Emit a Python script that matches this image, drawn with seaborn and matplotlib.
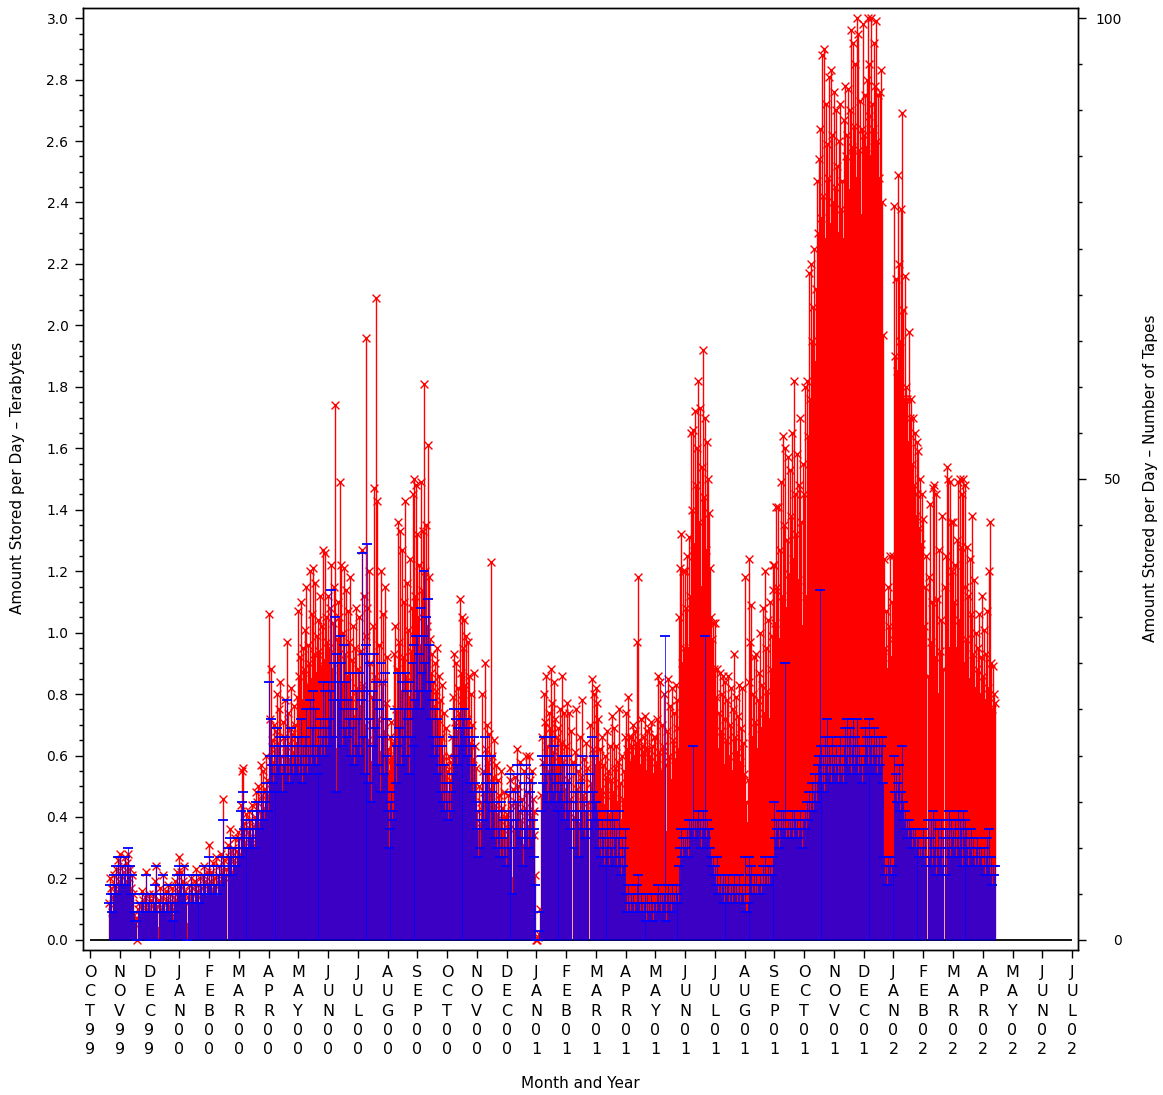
import numpy as np
import pandas as pd
import matplotlib
matplotlib.use("Agg")
import matplotlib.pyplot as plt
from matplotlib.ticker import MultipleLocator, FixedLocator, FormatStrFormatter
import seaborn as sns

# daily amount stored (TB), one line per month
tb_1999 = [
    0.12, 0.20, 0.17, 0.09, 0.14, 0.21, 0.18, 0.23, 0.16, 0.26, 0.19,  # Oct 21-31
    0.28, 0.21, 0.24, 0.18, 0.22, 0.27, 0.19, 0.25, 0.28, 0.20, 0.23, 0.17, 0.21, 0.15, 0.08,
    0.05, 0.07, 0.00, 0.10, 0.12, 0.08, 0.11, 0.16, 0.13, 0.09, 0.14, 0.22, 0.10, 0.12, 0.15,
    0.06, 0.10, 0.13, 0.09, 0.15, 0.12, 0.19, 0.24, 0.11, 0.04, 0.13, 0.17, 0.10, 0.14, 0.21,
    0.12, 0.09, 0.16, 0.13, 0.18, 0.11, 0.15, 0.12, 0.17, 0.08, 0.10, 0.14, 0.19, 0.13, 0.22, 0.16,
]
tb_2000 = [
    0.27, 0.18, 0.22, 0.15, 0.19, 0.24, 0.16, 0.12, 0.05, 0.14, 0.18, 0.13, 0.20, 0.17, 0.15,
    0.11, 0.19, 0.23, 0.16, 0.14, 0.18, 0.12, 0.20, 0.17, 0.15, 0.21, 0.24, 0.19, 0.14, 0.22, 0.18,
    0.31, 0.19, 0.22, 0.16, 0.25, 0.20, 0.18, 0.27, 0.14, 0.21, 0.24, 0.19, 0.28, 0.22, 0.46,
    0.26, 0.20, 0.23, 0.31, 0.27, 0.36, 0.29, 0.22, 0.30, 0.26, 0.33, 0.24, 0.29, 0.35,
    0.33, 0.28, 0.44, 0.55, 0.56, 0.38, 0.32, 0.41, 0.36, 0.30, 0.35, 0.42, 0.39, 0.33, 0.44,
    0.37, 0.31, 0.40, 0.48, 0.45, 0.50, 0.38, 0.42, 0.57, 0.47, 0.55, 0.43, 0.49, 0.60, 0.52, 0.47,
    1.06, 0.72, 0.88, 0.65, 0.58, 0.70, 0.62, 0.55, 0.68, 0.80, 0.64, 0.75, 0.84, 0.60, 0.57,
    0.71, 0.66, 0.78, 0.63, 0.97, 0.74, 0.59, 0.69, 0.82, 0.67, 0.61, 0.76, 0.70, 0.64, 0.79,
    1.07, 0.86, 0.92, 1.10, 0.78, 0.95, 0.88, 1.01, 1.15, 0.83, 0.96, 0.90, 1.20, 0.85, 1.06,
    1.21, 0.93, 1.16, 0.87, 0.99, 0.81, 1.04, 0.94, 1.12, 0.89, 1.02, 1.27, 0.91, 1.26, 1.05, 0.97,
    1.12, 0.95, 1.08, 1.22, 0.88, 1.03, 1.15, 1.74, 0.62, 0.98, 1.10, 1.05, 1.49, 1.22, 0.84,
    1.00, 1.21, 0.93, 1.14, 0.86, 1.07, 0.97, 1.18, 0.79, 0.91, 1.02, 0.73, 0.95, 1.08, 0.82,
    0.88, 1.05, 0.76, 0.94, 1.27, 0.83, 1.12, 0.70, 0.99, 1.96, 1.08, 0.65, 1.20, 0.90, 0.58,
    0.79, 1.02, 1.47, 0.86, 2.09, 1.43, 0.72, 0.96, 0.61, 1.20, 0.84, 1.06, 0.68, 1.15, 0.77, 0.92,
    0.62, 0.55, 0.66, 0.58, 0.71, 0.60, 0.64, 0.93, 1.02, 0.75, 0.88, 1.36, 0.97, 1.33, 0.81,
    1.27, 0.92, 1.10, 1.43, 0.86, 1.16, 1.01, 0.79, 1.24, 0.94, 1.08, 1.45, 0.89, 1.50, 1.12, 1.48,
    1.32, 1.05, 1.22, 0.96, 1.49, 1.14, 1.33, 1.81, 1.20, 1.35, 1.02, 1.61, 1.18, 0.98, 0.87,
    0.93, 0.84, 0.76, 0.90, 0.81, 0.95, 0.72, 0.86, 0.78, 0.66, 0.83, 0.60, 0.74, 0.57, 0.69,
    0.55, 0.48, 0.60, 0.52, 0.58, 0.66, 0.79, 0.93, 0.71, 0.90, 0.68, 0.82, 0.74, 1.11, 0.87,
    1.05, 0.78, 0.95, 1.04, 0.83, 0.99, 0.72, 0.97, 0.86, 0.64, 0.80, 0.70, 0.59, 0.87, 0.63, 0.56,
    0.42, 0.36, 0.50, 0.38, 0.45, 0.80, 0.55, 0.48, 0.90, 0.62, 0.70, 0.58, 0.67, 0.49, 1.23,
    0.60, 0.53, 0.65, 0.44, 0.57, 0.41, 0.52, 0.47, 0.39, 0.55, 0.43, 0.36, 0.48, 0.40, 0.33,
    0.41, 0.47, 0.38, 0.52, 0.56, 0.44, 0.20, 0.49, 0.36, 0.53, 0.45, 0.62, 0.50, 0.42, 0.58,
    0.39, 0.46, 0.31, 0.55, 0.43, 0.60, 0.48, 0.37, 0.60, 0.52, 0.40, 0.55, 0.46, 0.34, 0.42, 0.21,
]
tb_2001 = [
    0.00, 0.00, 0.01, 0.02, 0.10, 0.47, 0.66, 0.58, 0.80, 0.71, 0.86, 0.63, 0.55, 0.74, 0.69,
    0.88, 0.77, 0.61, 0.84, 0.72, 0.57, 0.66, 0.52, 0.69, 0.60, 0.75, 0.64, 0.86, 0.58, 0.74, 0.49,
    0.63, 0.77, 0.52, 0.74, 0.46, 0.68, 0.58, 0.40, 0.61, 0.75, 0.49, 0.55, 0.38, 0.66,
    0.53, 0.78, 0.47, 0.59, 0.42, 0.64, 0.56, 0.45, 0.70, 0.51, 0.85, 0.62, 0.80, 0.57,
    0.82, 0.77, 0.72, 0.58, 0.62, 0.49, 0.66, 0.57, 0.44, 0.60, 0.53, 0.47, 0.68, 0.55, 0.41,
    0.63, 0.52, 0.73, 0.48, 0.69, 0.56, 0.63, 0.45, 0.58, 0.75, 0.51, 0.39, 0.60, 0.46, 0.55, 0.66,
    0.74, 0.62, 0.79, 0.66, 0.58, 0.66, 0.63, 0.70, 0.60, 0.68, 0.64, 0.97, 1.18, 0.65, 0.57,
    0.72, 0.63, 0.61, 0.66, 0.73, 0.62, 0.55, 0.68, 0.62, 0.69, 0.60, 0.71, 0.63, 0.54, 0.66,
    0.66, 0.58, 0.72, 0.86, 0.61, 0.84, 0.55, 0.70, 0.63, 0.80, 0.57, 0.35, 0.68, 0.85, 0.60,
    0.76, 0.52, 0.82, 0.65, 0.74, 0.59, 0.83, 0.69, 0.78, 0.62, 1.05, 1.21, 1.32, 0.90, 1.20, 0.95,
    1.20, 1.08, 1.25, 0.95, 1.31, 1.12, 1.65, 1.40, 1.66, 1.29, 1.72, 1.48, 1.60, 1.82, 1.36,
    1.73, 1.15, 1.54, 1.92, 1.44, 1.70, 1.27, 1.62, 1.50, 1.39, 1.21, 1.05, 0.98, 1.03, 0.88,
    1.03, 0.79, 0.88, 0.62, 0.74, 0.87, 0.68, 0.80, 0.86, 0.57, 0.72, 0.84, 0.65, 0.78, 0.86,
    0.60, 0.70, 0.82, 0.55, 0.75, 0.93, 0.66, 0.79, 0.61, 0.73, 0.83, 0.58, 0.69, 0.82, 0.64, 0.54,
    1.18, 0.45, 0.38, 0.52, 0.84, 1.24, 0.97, 1.09, 0.66, 0.80, 0.92, 0.71, 0.93, 0.62, 0.78,
    0.87, 1.00, 0.69, 0.83, 1.08, 0.74, 1.20, 0.95, 0.81, 1.04, 0.72, 1.10, 0.88, 0.99, 1.14, 1.22,
    1.22, 1.03, 1.41, 1.15, 1.41, 0.98, 1.27, 1.49, 1.12, 1.64, 1.35, 1.60, 1.08, 1.30, 1.57,
    1.19, 1.53, 1.38, 1.65, 1.24, 1.82, 1.45, 1.32, 1.58, 1.17, 1.48, 1.70, 1.36, 1.02, 1.55,
    1.45, 1.80, 1.12, 1.82, 1.64, 2.17, 1.76, 2.20, 1.95, 2.06, 2.25, 1.88, 2.12, 2.47, 2.30,
    2.54, 2.64, 2.35, 2.05, 2.88, 2.42, 2.90, 2.28, 2.72, 2.59, 2.48, 2.81, 2.33, 2.83, 2.62, 2.40,
    2.76, 2.45, 2.70, 2.52, 2.30, 2.60, 2.72, 2.38, 2.47, 2.28, 2.67, 2.78, 2.55, 2.62, 2.77,
    2.44, 2.70, 2.96, 2.58, 2.92, 2.65, 2.85, 2.48, 3.00, 2.95, 2.57, 2.73, 2.36, 2.64, 2.98,
    2.62, 2.75, 2.58, 2.80, 3.00, 2.68, 2.85, 2.55, 3.00, 2.72, 2.64, 2.92, 2.78, 2.99, 2.60,
    2.75, 2.48, 2.76, 2.83, 2.40, 1.97, 1.24, 0.95, 1.07, 0.88, 1.15, 1.02, 1.25, 0.92, 1.10, 0.98,
]
tb_2002 = [
    1.25, 2.39, 1.90, 2.15, 1.85, 2.49, 2.20, 1.95, 2.38, 2.69, 2.05, 1.76, 2.16, 1.80, 1.76,
    1.62, 1.98, 1.70, 1.76, 1.55, 1.70, 1.48, 1.65, 1.38, 1.62, 1.45, 1.59, 1.34, 1.50, 1.29, 1.45,
    1.37, 1.02, 1.15, 1.25, 0.86, 1.18, 1.42, 0.97, 1.10, 1.47, 1.48, 0.92, 1.45, 1.11,
    0.80, 1.27, 0.94, 1.04, 1.38, 0.88, 1.15, 1.25, 1.54, 1.50, 0.95, 1.49, 1.36, 1.20,
    1.36, 1.10, 1.22, 0.95, 1.30, 1.49, 1.04, 1.50, 1.28, 1.45, 1.50, 0.90, 1.15, 1.48, 0.98,
    1.28, 1.12, 0.85, 1.24, 1.06, 1.38, 0.93, 1.17, 0.82, 1.00, 0.88, 0.95, 1.06, 0.80, 0.92, 1.12,
    0.86, 1.01, 0.78, 0.93, 1.07, 0.82, 1.20, 1.36, 0.90, 0.75, 0.89, 0.80, 0.77,  # Apr 1-13
]

# daily number of tapes written, same days
tapes_1999 = [
    4, 6, 5, 3, 5, 7, 6, 8, 5, 9, 6,
    9, 7, 8, 6, 7, 9, 6, 8, 10, 7, 8, 5, 7, 5, 3, 2, 2, 0, 3, 4, 3, 4, 5, 4, 3, 5, 7, 3, 4, 5,
    0, 3, 4, 3, 5, 4, 6, 8, 3, 0, 4, 5, 3, 4, 7, 4, 3, 5, 4, 6, 3, 5, 4, 5, 2, 3, 4, 6, 4, 7, 5,
]
tapes_2000 = [
    8, 6, 7, 5, 6, 8, 5, 4, 0, 5, 6, 4, 7, 6, 5, 4, 6, 7, 5, 5, 6, 4, 7, 6, 5, 7, 8, 6, 5, 7, 6,
    9, 6, 7, 5, 8, 6, 6, 8, 5, 7, 8, 6, 9, 7, 13, 8, 7, 7, 10, 9, 11, 9, 7, 10, 8, 10, 8, 9, 11,
    11, 9, 14, 15, 16, 12, 10, 13, 12, 10, 11, 13, 12, 11, 14, 12, 10, 13, 15, 14, 15, 12, 13, 16, 14, 16, 13, 15, 17, 16, 14,
    28, 20, 24, 19, 17, 21, 18, 16, 20, 23, 19, 21, 22, 18, 16, 20, 19, 22, 18, 26, 21, 17, 20, 23, 19, 18, 21, 20, 19, 22,
    22, 18, 20, 24, 17, 21, 19, 22, 25, 18, 21, 20, 26, 19, 23, 27, 20, 25, 19, 21, 18, 23, 21, 24, 20, 22, 28, 20, 27, 23, 21,
    28, 24, 27, 38, 22, 26, 30, 35, 16, 31, 28, 26, 33, 30, 21, 25, 32, 23, 28, 22, 26, 24, 29, 20, 23, 25, 19, 24, 27, 21,
    24, 29, 20, 26, 42, 22, 31, 18, 27, 32, 43, 17, 30, 24, 15, 21, 27, 31, 23, 28, 26, 19, 25, 16, 30, 22, 28, 18, 29, 20, 24,
    14, 10, 15, 12, 16, 13, 14, 22, 25, 17, 21, 29, 23, 29, 19, 28, 22, 25, 29, 20, 27, 24, 18, 28, 22, 25, 30, 21, 32, 26, 33,
    33, 27, 31, 25, 36, 29, 33, 40, 30, 35, 27, 37, 32, 28, 24, 26, 22, 20, 25, 21, 24, 18, 22, 19, 16, 21, 15, 19, 14, 17,
    15, 13, 17, 14, 16, 18, 22, 25, 20, 24, 19, 23, 21, 25, 23, 25, 21, 24, 25, 22, 24, 20, 23, 22, 17, 21, 19, 16, 22, 17, 15,
    12, 9, 14, 10, 13, 20, 16, 13, 22, 17, 18, 15, 17, 12, 20, 16, 14, 17, 11, 15, 10, 14, 12, 9, 15, 11, 9, 13, 10, 8,
    12, 14, 10, 16, 18, 13, 5, 15, 10, 16, 13, 19, 15, 12, 18, 11, 14, 8, 17, 12, 19, 14, 10, 18, 16, 11, 17, 13, 9, 12, 6,
]
tapes_2001 = [
    0, 0, 0, 1, 3, 14, 20, 17, 22, 18, 19, 16, 15, 20, 18, 22, 19, 16, 21, 18, 15, 17, 14, 18, 16, 19, 17, 20, 15, 19, 13,
    17, 20, 14, 19, 12, 18, 15, 10, 16, 19, 13, 14, 9, 17, 14, 20, 12, 15, 11, 16, 14, 12, 18, 13, 22, 16, 20, 15,
    15, 14, 13, 10, 12, 9, 13, 11, 8, 12, 10, 9, 14, 11, 8, 13, 10, 14, 9, 13, 11, 12, 8, 11, 14, 9, 7, 11, 8, 10, 12,
    5, 3, 6, 4, 3, 5, 4, 5, 3, 4, 4, 6, 7, 4, 3, 5, 4, 3, 4, 5, 4, 2, 5, 3, 4, 3, 5, 4, 2, 4,
    4, 3, 5, 6, 4, 5, 3, 5, 4, 5, 33, 2, 5, 6, 4, 5, 3, 6, 4, 5, 4, 6, 5, 5, 4, 8, 10, 12, 9, 11, 10,
    11, 10, 12, 9, 13, 12, 13, 12, 21, 11, 13, 12, 13, 14, 12, 13, 10, 12, 14, 12, 33, 11, 13, 12, 12, 10, 9, 8, 9, 7,
    8, 6, 9, 5, 6, 7, 5, 6, 7, 4, 6, 7, 5, 6, 7, 4, 5, 6, 4, 6, 7, 5, 6, 4, 5, 7, 4, 5, 6, 5, 4,
    9, 3, 3, 4, 6, 9, 7, 8, 5, 6, 7, 5, 7, 5, 6, 6, 7, 5, 6, 8, 6, 9, 7, 6, 8, 6, 8, 7, 7, 9, 9,
    15, 11, 13, 12, 13, 10, 12, 14, 12, 14, 12, 30, 11, 12, 13, 11, 13, 12, 14, 11, 14, 13, 12, 13, 11, 12, 14, 12, 10, 13,
    13, 14, 12, 15, 13, 16, 14, 15, 17, 14, 16, 18, 15, 17, 19, 20, 38, 18, 21, 17, 20, 16, 22, 19, 24, 18, 21, 20, 17, 22, 19,
    20, 18, 21, 19, 17, 20, 22, 18, 19, 17, 21, 23, 20, 24, 19, 22, 23, 18, 21, 24, 19, 22, 20, 24, 18, 21, 19, 20, 17, 19,
    20, 23, 21, 22, 19, 18, 24, 21, 22, 19, 21, 23, 20, 22, 18, 20, 22, 19, 21, 22, 17, 9, 7, 8, 6, 9, 8, 9, 7, 8, 7,
]
tapes_2002 = [
    8, 20, 16, 18, 15, 17, 19, 14, 16, 21, 15, 13, 14, 12, 13, 11, 13, 12, 12, 10, 12, 11, 12, 10, 11, 10, 11, 9, 10, 9, 10,
    12, 9, 11, 8, 13, 9, 11, 13, 8, 14, 10, 13, 7, 10, 12, 9, 10, 13, 8, 11, 12, 7, 12, 10, 14, 9, 13, 11,
    12, 10, 13, 9, 11, 14, 10, 13, 12, 8, 14, 11, 13, 9, 12, 10, 8, 11, 10, 12, 9, 11, 9, 8, 10, 11, 8, 10, 9, 10, 8,
    8, 10, 7, 9, 11, 8, 12, 7, 9, 6, 8, 7, 8,
]

month_labels = ["OCT99", "NOV99", "DEC99",
                "JAN00", "FEB00", "MAR00", "APR00", "MAY00", "JUN00",
                "JUL00", "AUG00", "SEP00", "OCT00", "NOV00", "DEC00",
                "JAN01", "FEB01", "MAR01", "APR01", "MAY01", "JUN01",
                "JUL01", "AUG01", "SEP01", "OCT01", "NOV01", "DEC01",
                "JAN02", "FEB02", "MAR02", "APR02", "MAY02", "JUN02", "JUL02"]

tb = tb_1999 + tb_2000 + tb_2001 + tb_2002
tapes = tapes_1999 + tapes_2000 + tapes_2001 + tapes_2002
n = min(len(tb), len(tapes))

dates = pd.date_range("1999-10-21", periods=n, freq="D")
df = pd.DataFrame({"date": dates, "tb": tb[:n], "tapes": tapes[:n]})
# month axis: every month gets the same width, OCT99 = 0
df["pos"] = ((df.date.dt.year - 1999) * 12 + (df.date.dt.month - 10)
             + (df.date.dt.day - 1) / df.date.dt.days_in_month)

sns.set_style("ticks")
plt.rcParams["font.family"] = ["DejaVu Sans"]
plt.rcParams.update({"text.color": "black", "xtick.color": "black",
                     "ytick.color": "black", "axes.labelcolor": "black"})

fig = plt.figure(figsize=(11.63, 10.95), dpi=100)
ax = fig.add_axes([83 / 1163, 145 / 1095, 995 / 1163, 942 / 1095])

# red needles with x markers (terabytes)
ax.vlines(df.pos, 0, df.tb, color="red", lw=1.0, zorder=2)
sns.scatterplot(data=df, x="pos", y="tb", marker="x", color="red",
                s=32, linewidth=1.0, ax=ax, zorder=3, legend=False)
ax.hlines(0, 0, len(month_labels) - 1, color="black", lw=1.3, zorder=4)

# blue needles with bar markers (tapes) on the right-hand scale
ax2 = ax.twinx()
ax2.vlines(df.pos, 0, df.tapes, color="blue", lw=0.55, zorder=2)
sns.scatterplot(data=df, x="pos", y="tapes", marker="_", color="blue",
                s=60, linewidth=1.3, ax=ax2, zorder=3, legend=False)

ax.set_xlim(-0.235, 33.2)
ax.set_ylim(-0.033, 3.033)
ax2.set_ylim(-0.033 * 100 / 3, 3.033 * 100 / 3)

ax.xaxis.set_major_locator(FixedLocator(range(len(month_labels))))
ax.set_xticklabels(["\n".join(m) for m in month_labels], fontsize=11.5,
                   linespacing=1.35, va="top")
ax.yaxis.set_major_locator(MultipleLocator(0.2))
ax.yaxis.set_minor_locator(MultipleLocator(0.05))
ax.yaxis.set_major_formatter(FormatStrFormatter("%.1f"))
ax2.yaxis.set_major_locator(FixedLocator([0, 50, 100]))
ax2.yaxis.set_minor_locator(MultipleLocator(5))

ax.tick_params(axis="x", which="major", direction="out", length=6, width=1, pad=5)
ax.tick_params(axis="y", which="major", direction="out", length=5.5, width=1,
               labelsize=10, pad=5)
ax.tick_params(axis="y", which="minor", direction="out", length=3, width=1)
ax2.tick_params(axis="y", which="major", direction="out", length=5.5, width=1,
                labelsize=10, pad=26)
ax2.tick_params(axis="y", which="minor", direction="out", length=3, width=1)
for lab in ax2.get_yticklabels():
    lab.set_horizontalalignment("right")

for a in (ax, ax2):
    a.set_xlabel("")
    a.set_ylabel("")
    for sp in a.spines.values():
        sp.set_visible(True)
        sp.set_color("black")
        sp.set_linewidth(1.0)

fig.text(580 / 1163, 1 - 1083 / 1095, "Month and Year", ha="center", va="center", fontsize=11)
fig.text(18 / 1163, 1 - 478 / 1095, "Amount Stored per Day \u2013 Terabytes",
         rotation=90, ha="center", va="center", fontsize=11)
fig.text(1150 / 1163, 1 - 478 / 1095, "Amount Stored per Day \u2013 Number of Tapes",
         rotation=90, ha="center", va="center", fontsize=11)

fig.savefig("out.png", dpi=100, facecolor="white")
